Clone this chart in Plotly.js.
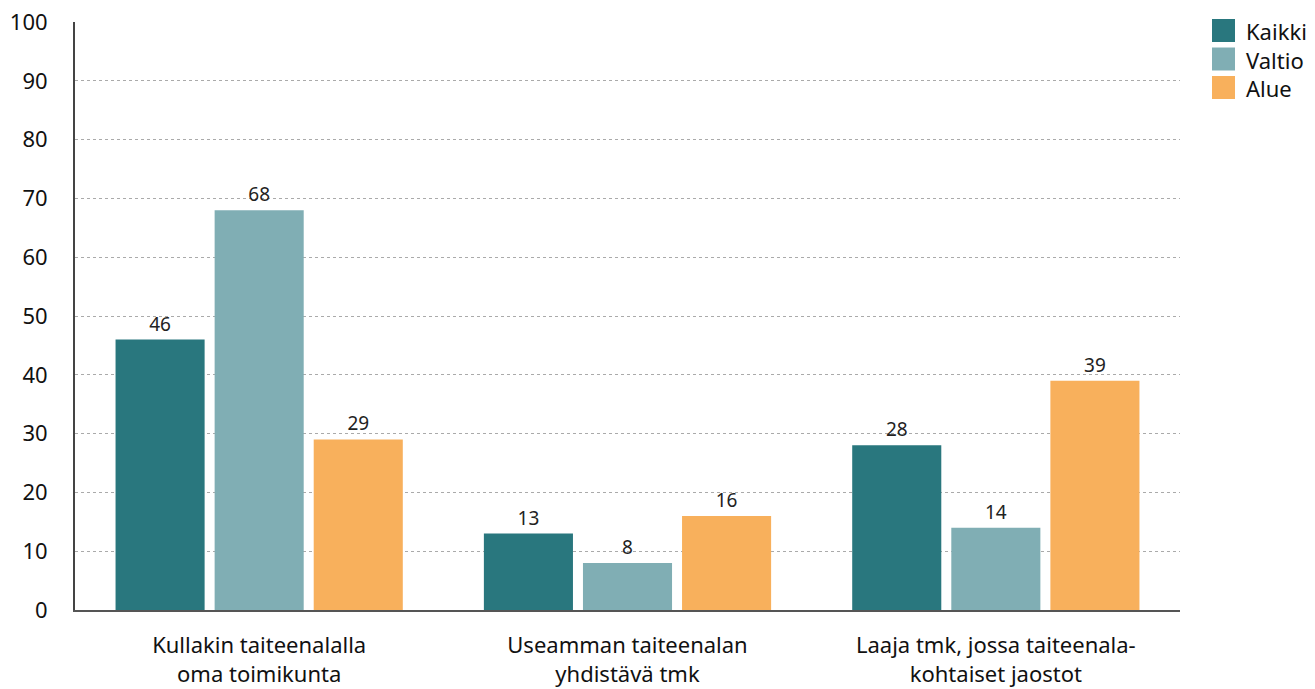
<!DOCTYPE html>
<html><head><meta charset="utf-8">
<script src="https://cdn.plot.ly/plotly-3.0.1.min.js"></script>
<style>html,body{margin:0;padding:0;background:#fff;}#chart{width:1315px;height:689px;}</style>
</head><body><div id="chart"></div>
<script>
const categories = ["Kullakin taiteenalalla<br>oma toimikunta", "Useamman taiteenalan<br>yhdistävä tmk", "Laaja tmk, jossa taiteenala-<br>kohtaiset jaostot"];
const seriesNames = ["Kaikki", "Valtio", "Alue"];
const kaikki = [46, 13, 28];
const valtio = [68, 8, 14];
const alue = [29, 16, 39];
const colors = ["#29777e", "#80aeb4", "#f8b05c"];
const yTicks = [0,10,20,30,40,50,60,70,80,90,100];

const values = [kaikki, valtio, alue];
const traces = values.map((v, i) => ({
  type: "bar", name: seriesNames[i], x: categories, y: v,
  marker: {color: colors[i]},
  text: v.map(String), textposition: "outside", cliponaxis: false,
  textfont: {size: 19, color: "#222", family: "Noto Sans"},
  hoverinfo: "none", showlegend: false
}));

// Custom legend (large square swatches) in paper coordinates
const shapes = [];
const plotL = 75, plotR = 1180, plotT = 22, plotB = 610;
const px2x = p => (p - plotL) / (plotR - plotL);
const py2y = p => (plotB - p) / (plotB - plotT);
seriesNames.forEach((name, i) => {
  const top = 19 + 28.5 * i;
  shapes.push({type: "rect", xref: "paper", yref: "paper",
    x0: px2x(1212), x1: px2x(1235), y0: py2y(top + 23), y1: py2y(top),
    fillcolor: colors[i], line: {width: 0}});
});
const annotations = [{xref: "paper", yref: "paper", x: px2x(1245), y: py2y(19 + 28.5 + 11.5),
  xanchor: "left", yanchor: "middle", align: "left", text: seriesNames.join("<br>"),
  showarrow: false, borderpad: 0,
  font: {size: 22, color: "#111", family: "Noto Sans"}}];

const layout = {
  width: 1315, height: 689,
  margin: {l: 75, r: 135, t: 22, b: 79},
  paper_bgcolor: "#fff", plot_bgcolor: "#fff",
  font: {family: "Noto Sans", color: "#111"},
  barmode: "group", bargap: 0.193, bargroupgap: 0.101,
  xaxis: {showline: true, linecolor: "#555", linewidth: 2, ticks: "", showgrid: false,
          tickfont: {size: 22, color: "#111"}, zeroline: false, ticklabelstandoff: 15},
  yaxis: {range: [0, 100], tickvals: yTicks, ticktext: yTicks.map(String),
          showgrid: true, gridcolor: "#aaa", griddash: "dot", gridwidth: 1,
          showline: true, linecolor: "#444", linewidth: 2, zeroline: false,
          tickfont: {size: 22, color: "#111"}, ticklabelstandoff: 21, fixedrange: true},
  shapes: shapes, annotations: annotations,
  showlegend: false
};
Plotly.newPlot("chart", traces, layout, {displayModeBar: false, staticPlot: true});
</script></body></html>
